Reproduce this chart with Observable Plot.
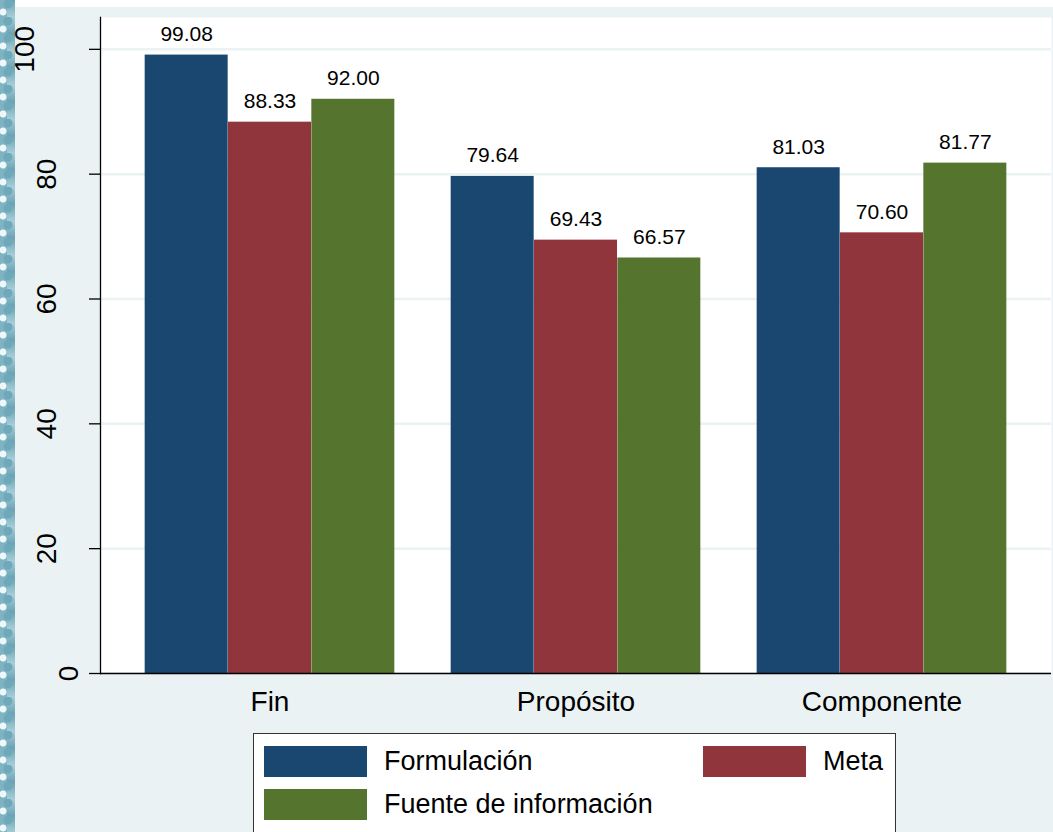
<!DOCTYPE html>
<html>
<head>
<meta charset="utf-8">
<script src="https://cdn.jsdelivr.net/npm/d3@7"></script>
<script src="https://cdn.jsdelivr.net/npm/@observablehq/plot@0.6"></script>
<style>
  html, body { margin: 0; padding: 0; }
  body { width: 1053px; height: 832px; position: relative; overflow: hidden; background: #ffffff;
         font-family: "Liberation Sans", Arial, Helvetica, sans-serif; }
  #strip { position: absolute; left: 0; top: 0; width: 15px; height: 832px;
           background-color: #eef7f9;
           background-image:
             radial-gradient(circle at 8px 4px, #6fa8b8 4px, transparent 5px),
             radial-gradient(circle at 3px 12px, #eef7f9 3px, transparent 4px),
             linear-gradient(90deg, #7db3c2 0px, #7db3c2 7px, transparent 7px),
             linear-gradient(180deg, #6aa3b4 0%, #a6cdd8 50%, #6aa3b4 100%);
           background-size: 15px 17px, 15px 17px, 15px 17px, 15px 34px; }
  #bg { position: absolute; left: 15px; top: 7px; right: 0; bottom: 0; background: #eaf2f3; }
  #chart { position: absolute; left: 0; top: 0; }
  #legend { position: absolute; left: 253px; top: 733px; width: 643px; height: 120px;
            background: #ffffff; border: 1.5px solid #333333; box-sizing: border-box; }
  .item { position: absolute; display: flex; align-items: center; }
  .key { width: 103px; height: 31px; }
  .lab { margin-left: 17px; font-size: 27px; color: #000; white-space: nowrap; }
</style>
</head>
<body>
<div id="strip"></div>
<div id="bg"></div>
<div id="chart"></div>
<div id="legend"></div>
<script>
const categories = ["Fin", "Propósito", "Componente"];
const series = ["Formulación", "Meta", "Fuente de información"];
const formulacion = [99.08, 79.64, 81.03];
const meta = [88.33, 69.43, 70.60];
const fuente = [92.00, 66.57, 81.77];
const colors = ["#1a476f", "#90353b", "#55752f"];
const yTicks = [0, 20, 40, 60, 80, 100];

const seriesValues = [formulacion, meta, fuente];

// layout constants (style)
const groupWidth = 250;                 // px width of a group of bars
const barWidth = groupWidth / series.length;

// one bar mark + one label mark per series, dodged within the category band
const seriesMarks = series.flatMap((s, j) => {
  const rows = categories.map((c, i) => ({category: c, series: s, value: seriesValues[j][i]}));
  const dx = (j - (series.length - 1) / 2) * barWidth;
  return [
    Plot.barY(rows, {x: "category", y: "value", fill: colors[j], dx}),
    Plot.text(rows, {x: "category", y: "value", text: d => d.value.toFixed(2), dx,
      lineAnchor: "bottom", dy: -14, fontSize: 21, fill: "black"})
  ];
});

// y tick labels grouped by label length (offset depends on label length, as in the reference)
const yLabelMarks = d3.groups(yTicks, d => String(d).length).map(([len, ticks]) =>
  Plot.text(ticks, {
    y: d => d, text: d => String(d), frameAnchor: "left", rotate: -90,
    textAnchor: "middle", lineAnchor: "bottom", dx: -45 - 22 * (len - 2),
    fontSize: 28, fill: "black"
  })
);

const chart = Plot.plot({
  width: 1053,
  height: 720,
  marginLeft: 100,
  marginRight: 2,
  marginTop: 17,
  marginBottom: 47,
  style: {fontFamily: "'Liberation Sans', Arial, Helvetica, sans-serif", background: "transparent", overflow: "visible", color: "black"},
  x: {domain: categories, paddingInner: 1 - (barWidth / 306), paddingOuter: 0.416, label: null},
  y: {domain: [0, 105.1], label: null},
  marks: [
    Plot.frame({fill: "white", stroke: "none"}),
    Plot.gridY(yTicks, {stroke: "#eaf2f3", strokeOpacity: 1, strokeWidth: 2.5}),
    ...seriesMarks,
    Plot.axisY({ticks: yTicks, tickSize: 11, tickFormat: () => "", label: null, stroke: "black", strokeWidth: 1.3}),
    ...yLabelMarks,
    Plot.frame({anchor: "left", stroke: "black", strokeWidth: 1.3}),
    Plot.ruleY([0], {stroke: "black", strokeWidth: 1.3}),
    Plot.axisX({tickSize: 0, tickPadding: 18, fontSize: 28, label: null})
  ]
});
document.getElementById("chart").appendChild(chart);

// Legend built from the series and colours
const legend = d3.select("#legend");
const positions = [{left: 10, top: 12}, {left: 449, top: 12}, {left: 10, top: 55}];
series.forEach((s, i) => {
  const item = legend.append("div").attr("class", "item")
    .style("left", positions[i].left + "px").style("top", positions[i].top + "px");
  item.append("div").attr("class", "key").style("background", colors[i]);
  item.append("div").attr("class", "lab").text(s);
});
</script>
</body>
</html>
